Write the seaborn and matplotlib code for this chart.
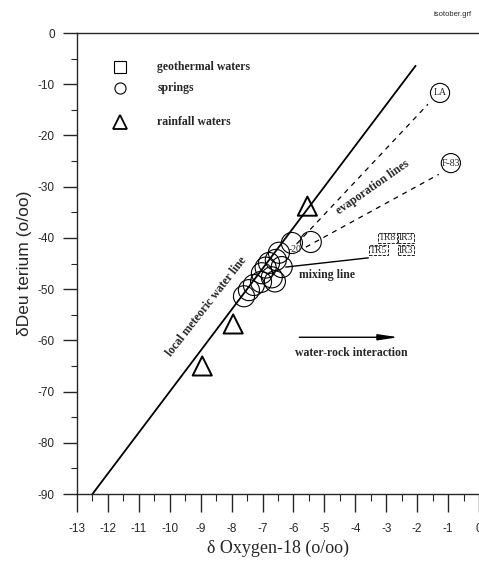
import matplotlib
matplotlib.use("Agg")
import matplotlib.pyplot as plt
import seaborn as sns
import numpy as np
import pandas as pd
from matplotlib.ticker import MultipleLocator

# ---- data ----
spring_x = [-5.44, -6.05, -6.47, -6.57, -6.38, -6.79, -6.70, -7.02, -7.05, -7.28, -7.44, -7.60, -6.9, -6.6]
spring_y = [-40.8, -41.0, -42.9, -44.3, -45.7, -44.9, -47.7, -46.9, -48.6, -49.2, -50.2, -51.4, -45.8, -48.5]
labeled_spring_x = [-1.26, -0.91]
labeled_spring_y = [-11.7, -25.4]
labeled_spring_names = ["LA", "F-83"]
rain_x = [-5.55, -7.95, -8.95]
rain_y = [-33.8, -56.8, -65.0]
geo_x = [-2.97, -2.36, -3.26, -2.36]
geo_y = [-40.0, -40.0, -42.4, -42.4]
geo_names = ["TR8", "IR3", "TR5", "IR3"]
lmwl_x = [-12.5, -2.05]          # local meteoric water line dD = 8 d18O + 10
lmwl_y = [-90.0, -6.4]
evap1_x = [-5.9, -1.65]
evap1_y = [-41.2, -13.9]
evap2_x = [-5.6, -1.3]
evap2_y = [-41.8, -27.6]
mix_x = [-6.25, -3.58]
mix_y = [-45.7, -43.9]
x_ticks = list(range(-13, 1))
y_ticks = list(range(-90, 1, 10))

sns.set_style("ticks")
plt.rcParams["font.family"] = ["Liberation Sans", "DejaVu Sans"]
serif = ["Liberation Serif", "DejaVu Serif"]

fig = plt.figure(figsize=(4.79, 5.62), dpi=100)
ax = fig.add_axes([77/479, 68/562, 402/479, 461/562])

ax.plot(lmwl_x, lmwl_y, color="black", lw=1.3)
ax.plot(evap1_x, evap1_y, color="black", lw=0.9, ls=(0, (4, 4)))
ax.plot(evap2_x, evap2_y, color="black", lw=0.9, ls=(0, (4, 4)))
ax.plot(mix_x, mix_y, color="black", lw=1.0)

springs = pd.DataFrame({"x": spring_x, "y": spring_y})
sns.scatterplot(data=springs, x="x", y="y", ax=ax, marker="o", s=230,
                facecolors="none", edgecolor="black", linewidth=0.8, legend=False)
lab = pd.DataFrame({"x": labeled_spring_x, "y": labeled_spring_y})
sns.scatterplot(data=lab, x="x", y="y", ax=ax, marker="o", s=190,
                facecolors="none", edgecolor="black", linewidth=0.8, legend=False)
for xx, yy, nm in zip(labeled_spring_x, labeled_spring_y, labeled_spring_names):
    ax.text(xx, yy, nm, ha="center", va="center", fontsize=7, family=serif)
ax.text(-5.95, -42.3, "-20", ha="center", va="center", fontsize=7, family=serif)

rain = pd.DataFrame({"x": rain_x, "y": rain_y})
sns.scatterplot(data=rain, x="x", y="y", ax=ax, marker="^", s=190,
                facecolors="none", edgecolor="black", linewidth=1.4, legend=False)

for xx, yy, nm in zip(geo_x, geo_y, geo_names):
    ax.text(xx, yy, nm, ha="center", va="center", fontsize=7, family=serif,
            bbox=dict(boxstyle="square,pad=0.08", fc="none", ec="black", lw=0.6, ls="--"))

# annotations
ax.text(-8.82, -53.5, "local meteoric water line", rotation=52, ha="center", va="center",
        rotation_mode="anchor", fontsize=8.5, family=serif, fontweight="bold")
ax.text(-3.42, -30.1, "evaporation lines", rotation=35, ha="center", va="center",
        rotation_mode="anchor", fontsize=8.5, family=serif, fontweight="bold")
ax.text(-4.93, -47.3, "mixing line", ha="center", va="center", fontsize=8.5,
        family=serif, fontweight="bold")
ax.annotate("", xy=(-2.52, -59.4), xytext=(-5.9, -59.4),
            arrowprops=dict(arrowstyle="-|>,head_length=1.2,head_width=0.18", color="black", lw=1.0))
ax.text(-4.13, -62.4, "water-rock interaction", ha="center", va="center", fontsize=8.5,
        family=serif, fontweight="bold")

# legend (manual)
lx, tx = 0.107, 0.2
ax.plot([lx], [0.926], transform=ax.transAxes, marker="s", ms=9, mfc="none", mec="black",
        mew=0.8, ls="none", clip_on=False)
ax.plot([lx], [0.881], transform=ax.transAxes, marker="o", ms=8, mfc="none", mec="black",
        mew=0.8, ls="none")
ax.plot([lx], [0.807], transform=ax.transAxes, marker="^", ms=10, mfc="none", mec="black",
        mew=1.3, ls="none")
for yy, t in zip([0.926, 0.881, 0.807], ["geothermal waters", "springs", "rainfall waters"]):
    ax.text(tx, yy, t, transform=ax.transAxes, ha="left", va="center", fontsize=8.5,
            family=serif, fontweight="bold")

ax.set_xlim(-13, -0.06)
ax.set_ylim(-90, 0)
ax.set_xticks(x_ticks)
ax.set_xticklabels([str(v) for v in x_ticks])
ax.set_yticks(y_ticks)
ax.set_yticklabels([str(v) for v in y_ticks])
ax.xaxis.set_minor_locator(MultipleLocator(0.5))
ax.yaxis.set_minor_locator(MultipleLocator(5))
ax.tick_params(axis="x", which="major", direction="out", length=13, width=1.0, pad=8, labelsize=8.5)
ax.tick_params(axis="x", which="minor", direction="out", length=5, width=0.8)
ax.tick_params(axis="y", which="major", direction="out", length=10, width=1.0, pad=6, labelsize=8.5)
ax.tick_params(axis="y", which="minor", direction="out", length=4, width=0.8)
for s in ["left", "top", "bottom"]:
    ax.spines[s].set_linewidth(1.0)
ax.spines["right"].set_visible(False)

ax.set_xlabel("δ Oxygen-18 (o/oo)", family=serif, fontsize=13, labelpad=3)
ax.set_ylabel("δDeu terium (o/oo)", fontsize=12.5, labelpad=4)

fig.text(0.985, 0.975, "isotober.grf", ha="right", va="center", fontsize=5.5)

fig.savefig("out.png", dpi=100)
